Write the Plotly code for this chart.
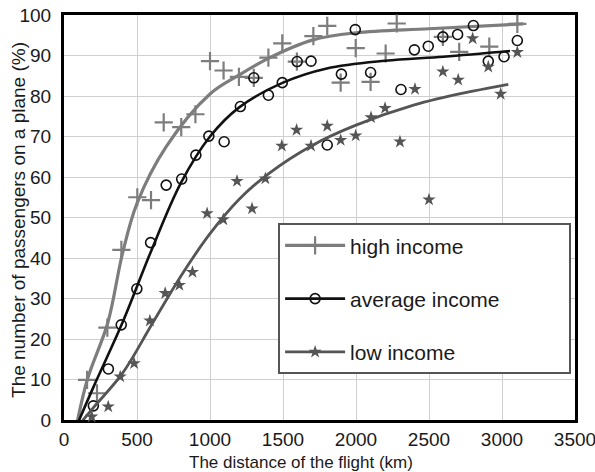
import plotly.graph_objects as go

# ---- data ----
high_x = [85, 158, 226, 297, 393, 502, 596, 683, 803, 900, 1000, 1093, 1198, 1300, 1400, 1495,
          1595, 1708, 1803, 1895, 1998, 2100, 2203, 2279, 2408, 2595, 2707, 2810, 2913, 3105]
high_y = [-1.5, 9.9, 6.6, 22.8, 42.0, 55.0, 54.3, 73.5, 72.3, 75.5, 88.6, 86.3, 84.7, 84.5, 89.5, 93.0,
          88.5, 94.8, 97.3, 83.3, 91.8, 83.5, 90.5, 97.9, 100.2, 94.6, 90.9, 100.4, 92.2, 97.8]

avg_x = [201, 304, 392, 499, 593, 700, 806, 903, 992, 1097, 1208, 1300, 1400, 1495, 1597, 1692,
         1803, 1900, 1995, 2100, 2308, 2400, 2495, 2595, 2696, 2804, 2906, 3014, 3105]
avg_y = [3.5, 12.6, 23.5, 32.4, 43.8, 58.0, 59.5, 65.4, 70.1, 68.7, 77.4, 84.5, 80.2, 83.3, 88.5, 88.6,
         67.9, 85.4, 96.4, 85.8, 81.6, 91.4, 92.3, 94.6, 95.2, 97.4, 88.6, 89.7, 93.7]

low_x = [190, 303, 385, 480, 588, 693, 790, 880, 980, 1091, 1185, 1288, 1379, 1492, 1593, 1692,
         1803, 1895, 1998, 2103, 2199, 2301, 2404, 2500, 2595, 2700, 2799, 2906, 2991, 3105]
low_y = [0.8, 3.3, 10.7, 14.0, 24.5, 31.3, 33.3, 36.5, 51.0, 49.5, 59.0, 52.2, 59.6, 67.7, 71.6, 67.7,
         72.6, 69.1, 70.2, 74.7, 77.0, 68.7, 81.7, 54.4, 86.0, 84.0, 94.2, 87.2, 80.5, 90.8]

# fitted trend curves
high_cx = [85, 160, 300, 400, 500, 700, 1000, 1200, 1400, 1700, 2000, 2500, 3146]
high_cy = [-1.5, 10.0, 24.0, 41.0, 53.5, 67.5, 80.5, 85.2, 89.3, 93.8, 95.6, 96.6, 97.8]

avg_cx = [80, 200, 400, 600, 800, 1000, 1200, 1500, 1800, 2200, 2600, 3055]
avg_cy = [-2.0, 8.0, 24.0, 42.0, 58.5, 70.0, 77.2, 83.3, 86.8, 88.7, 89.7, 91.1]

low_cx = [85, 200, 400, 600, 800, 1000, 1200, 1400, 1700, 2000, 2400, 2800, 3043]
low_cy = [-2.0, 3.0, 11.5, 23.5, 35.5, 46.0, 54.5, 60.8, 67.8, 72.8, 77.8, 81.2, 82.9]

names = ["high income", "average income", "low income"]
x_ticks = [0, 500, 1000, 1500, 2000, 2500, 3000, 3500]
y_ticks = [0, 10, 20, 30, 40, 50, 60, 70, 80, 90, 100]

HIGH_C = "#7d7d7d"
AVG_C = "#111111"
LOW_C = "#555555"

fig = go.Figure()

series = [
    (names[0], high_x, high_y, high_cx, high_cy, HIGH_C,
     dict(symbol="cross-thin-open", size=13, color=HIGH_C, line=dict(width=2.2, color=HIGH_C)), 3.2),
    (names[1], avg_x, avg_y, avg_cx, avg_cy, AVG_C,
     dict(symbol="circle-open", size=10, color=AVG_C, line=dict(width=1.6, color=AVG_C)), 2.6),
    (names[2], low_x, low_y, low_cx, low_cy, LOW_C,
     dict(symbol="star", size=10, color=LOW_C, line=dict(width=0, color=LOW_C)), 2.8),
]

pad = "\u00a0" * 11  # widen the legend box like the reference
for i, (name, px, py, cx, cy, col, mk, lw) in enumerate(series):
    fig.add_trace(go.Scatter(x=cx, y=cy, mode="lines",
                             line=dict(color=col, width=lw, shape="spline", smoothing=1.0),
                             showlegend=False, hoverinfo="skip", legendgroup=name))
    fig.add_trace(go.Scatter(x=px, y=py, mode="markers", marker=mk, showlegend=False,
                             legendgroup=name, cliponaxis=False))
    fig.add_trace(go.Scatter(x=[None], y=[None], mode="lines+markers",
                             name=name + (pad if i == 1 else ""), legendgroup=name,
                             line=dict(color=col, width=lw), marker=mk))

fig.update_layout(
    width=595, height=472,
    margin=dict(l=64, r=20, t=15, b=52, autoexpand=False),
    paper_bgcolor="white", plot_bgcolor="white",
    font=dict(family="Liberation Sans, Arial, sans-serif", color="#1a1a1a"),
    showlegend=True,
    legend=dict(x=0.419, y=0.486, xanchor="left", yanchor="top",
                bordercolor="#555555", borderwidth=2, bgcolor="white",
                font=dict(size=21, color="#1a1a1a"), tracegroupgap=23,
                itemwidth=60),
    xaxis=dict(range=[0, 3500], tickvals=x_ticks, ticktext=[str(v) for v in x_ticks],
               showgrid=True, gridcolor="#cfcfcf", gridwidth=1.3, zeroline=False,
               showline=True, linecolor="black", linewidth=3, mirror=True, automargin=False,
               layer="below traces",
               ticks="", tickfont=dict(size=19), ticklabelstandoff=0, ticklabeloverflow="allow"),
    yaxis=dict(range=[0, 100], tickvals=y_ticks, ticktext=[str(v) for v in y_ticks],
               showgrid=True, gridcolor="#cfcfcf", gridwidth=1.3, zeroline=False,
               showline=True, linecolor="black", linewidth=3, mirror=True, automargin=False,
               layer="below traces",
               ticks="", tickfont=dict(size=19), ticklabelstandoff=6, ticklabeloverflow="allow"),
    annotations=[
        dict(text="The distance of the flight (km)", xref="paper", yref="paper",
             x=0.464, y=-0.106, xanchor="center", yanchor="middle", showarrow=False,
             font=dict(size=17, color="#1a1a1a")),
        dict(text="The number of passengers on a plane (%)", xref="paper", yref="paper",
             x=-0.088, y=0.494, xanchor="center", yanchor="middle", showarrow=False, textangle=-90,
             font=dict(size=19, color="#1a1a1a")),
    ],
)

fig.write_html("out.html", config={"displayModeBar": False},
               post_script="document.body.style.margin='0';")
